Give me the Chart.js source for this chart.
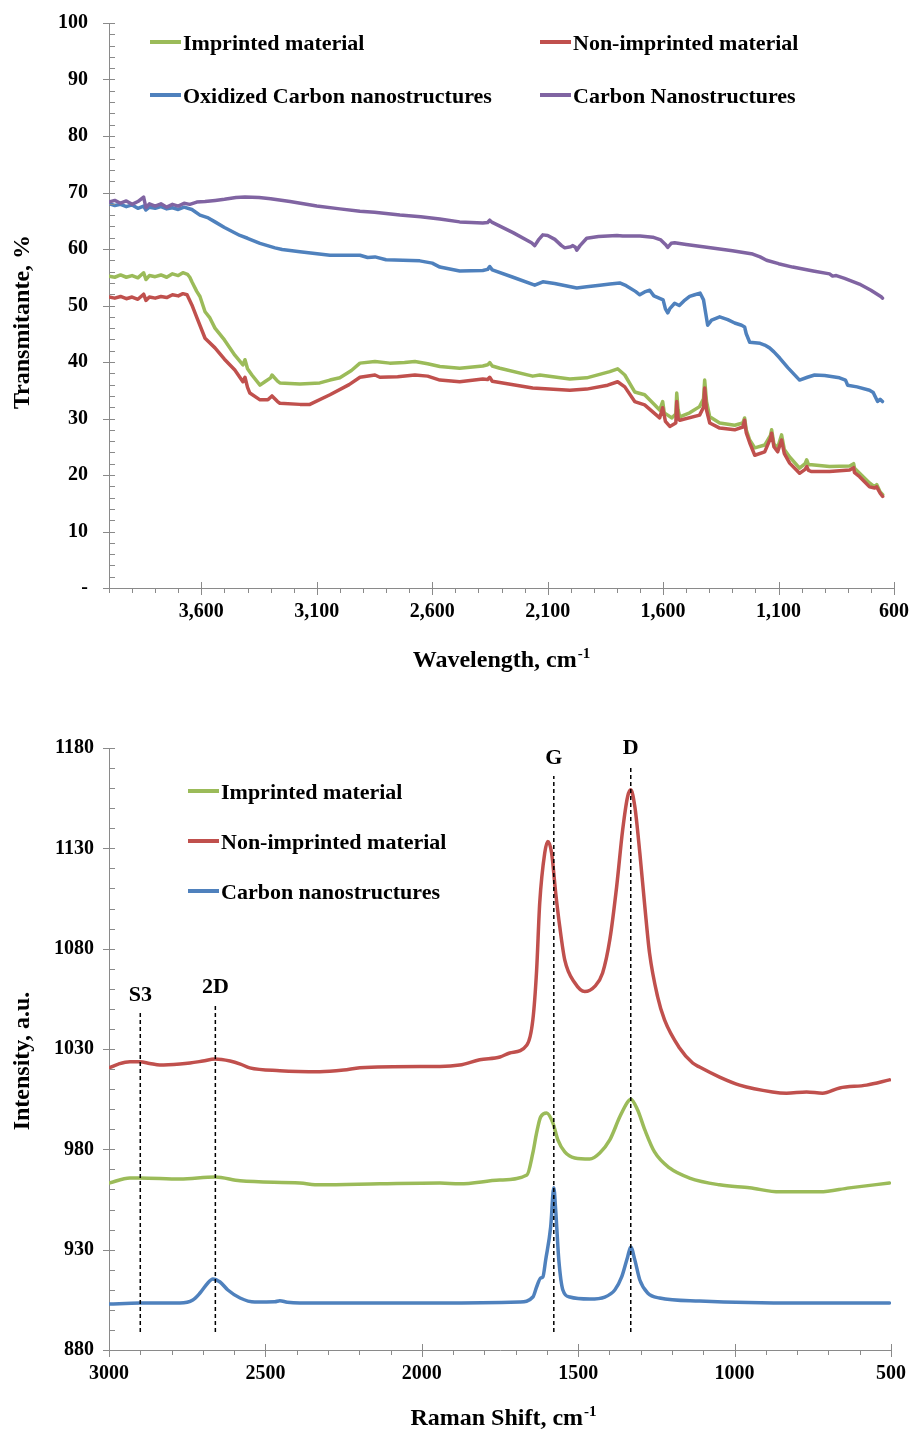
<!DOCTYPE html>
<html>
<head>
<meta charset="utf-8">
<script src="https://cdn.jsdelivr.net/npm/chart.js@4.4.1/dist/chart.umd.min.js"></script>
<style>
  body { margin: 0; background: #fff; overflow: hidden; }
  canvas { position: absolute; left: 0; }
  #ftir { top: 0; }
  #raman { top: 700px; }
</style>
</head>
<body>
<canvas id="ftir" width="912" height="700"></canvas>
<canvas id="raman" width="912" height="730"></canvas>
<script>
// ---- FTIR spectra (wavenumber, transmittance %) ----
const imprintedFtirX = [4000,3975,3950,3925,3900,3875,3850,3840,3825,3800,3775,3750,3725,3700,3680,3660,3650,3641,3620,3606,3584,3563,3541,3500,3455,3420,3411,3400,3381,3346,3325,3300,3294,3270,3260,3173,3087,3043,3000,2950,2913,2848,2784,2720,2675,2620,2567,2481,2381,2360,2351,2340,2307,2165,2134,2004,1931,1831,1797,1766,1723,1680,1636,1615,1602,1595,1580,1563,1545,1541,1535,1528,1485,1442,1425,1420,1412,1398,1355,1290,1255,1247,1240,1225,1203,1160,1135,1130,1120,1104,1087,1075,1052,1009,985,978,970,957,879,792,775,771,749,706,684,675,660,649];
const imprintedFtirY = [55.2,55.0,55.4,55.0,55.3,54.9,55.8,54.6,55.3,55.1,55.4,55.0,55.6,55.3,55.8,55.5,55.0,54.2,52.5,51.6,48.9,47.8,46.0,43.9,41.2,39.5,40.4,38.8,37.7,35.9,36.5,37.2,37.7,36.6,36.3,36.1,36.3,36.8,37.2,38.5,39.8,40.1,39.8,39.9,40.1,39.7,39.2,38.9,39.3,39.5,39.9,39.3,38.9,37.5,37.7,37.0,37.2,38.3,38.8,37.7,34.7,34.2,32.4,31.5,33.0,31.0,30.6,30.1,30.8,34.5,31.5,30.3,31.0,32.1,33.5,36.8,33.0,30.3,29.2,28.8,29.2,30.1,28.0,26.2,24.8,25.3,27.0,28.0,25.5,24.8,27.1,24.5,23.2,21.2,22.0,22.7,21.8,21.8,21.5,21.6,22.0,21.2,20.3,18.6,17.9,18.3,17.0,16.5];

const nonImprintedFtirX = [4000,3975,3950,3925,3900,3875,3850,3840,3825,3800,3775,3750,3725,3700,3680,3662,3641,3619,3584,3541,3500,3455,3420,3411,3400,3390,3346,3312,3294,3270,3260,3173,3130,3043,2960,2913,2848,2827,2750,2675,2620,2567,2481,2381,2360,2351,2340,2165,2004,1931,1840,1797,1766,1723,1680,1615,1602,1590,1571,1545,1541,1535,1528,1442,1425,1420,1412,1398,1355,1290,1255,1247,1240,1225,1203,1160,1135,1130,1120,1104,1087,1075,1052,1009,985,978,970,957,879,792,775,771,749,706,684,675,660,649];
const nonImprintedFtirY = [51.5,51.3,51.6,51.2,51.5,51.1,52.0,50.9,51.5,51.3,51.6,51.4,51.9,51.7,52.1,51.9,50.1,47.8,44.2,42.5,40.5,38.6,36.5,37.3,35.5,34.5,33.3,33.3,34.0,33.0,32.7,32.5,32.5,34.2,36.0,37.3,37.7,37.3,37.4,37.7,37.5,36.8,36.5,37.0,36.9,37.3,36.6,35.4,35.0,35.2,35.9,36.5,35.6,33.0,32.4,30.1,31.9,29.5,28.6,29.2,33.0,30.0,29.7,30.6,32.0,35.4,31.5,29.2,28.3,28.0,28.5,29.7,27.5,25.7,23.5,24.1,26.5,27.4,25.0,24.1,26.2,23.8,22.1,20.3,21.0,21.5,20.8,20.6,20.6,20.9,21.3,20.4,19.7,17.9,17.7,17.9,16.8,16.2];

const oxidizedFtirX = [4000,3975,3950,3925,3900,3875,3850,3840,3825,3800,3775,3750,3725,3700,3675,3641,3606,3570,3541,3500,3433,3400,3346,3281,3250,3173,3043,2913,2880,2848,2800,2654,2600,2567,2481,2381,2360,2351,2340,2250,2156,2121,2070,1974,1931,1874,1830,1788,1760,1720,1701,1680,1658,1640,1600,1590,1580,1570,1550,1530,1510,1485,1463,1440,1425,1415,1407,1390,1355,1320,1290,1260,1247,1240,1225,1180,1160,1139,1120,1095,1060,1009,975,944,900,836,810,801,760,706,690,671,660,650];
const oxidizedFtirY = [68.0,67.7,67.9,67.5,67.8,67.2,67.6,66.9,67.4,67.2,67.5,67.1,67.3,67.0,67.4,67.0,66.0,65.5,64.8,63.8,62.4,61.9,61.0,60.2,59.9,59.5,58.9,58.9,58.5,58.6,58.1,57.9,57.5,56.8,56.1,56.2,56.4,56.9,56.3,55.0,53.6,54.2,53.9,53.1,53.3,53.6,53.8,54.0,53.5,52.5,51.9,52.4,52.7,51.7,51.0,49.4,48.7,49.5,50.4,50.0,50.8,51.6,51.9,52.2,51.0,48.5,46.5,47.4,48.0,47.5,46.9,46.5,46.2,45.0,43.5,43.3,43.0,42.5,41.8,40.7,39.0,36.8,37.3,37.7,37.6,37.2,36.8,35.9,35.6,35.0,34.6,33.0,33.4,33.0];

const carbonFtirX = [4000,3975,3950,3925,3900,3875,3850,3840,3825,3800,3775,3750,3725,3700,3675,3650,3620,3584,3540,3500,3450,3411,3350,3300,3216,3100,3000,2913,2850,2740,2650,2567,2481,2381,2360,2351,2340,2250,2170,2156,2140,2121,2100,2069,2040,2026,2000,1991,1980,1974,1960,1931,1880,1800,1775,1700,1645,1610,1590,1580,1565,1550,1500,1411,1300,1212,1180,1152,1100,1039,950,879,866,850,814,750,700,654,650];
const carbonFtirY = [68.3,68.6,68.1,68.5,67.9,68.4,69.2,67.3,68.0,67.6,68.0,67.4,67.9,67.6,68.1,67.9,68.3,68.4,68.6,68.8,69.1,69.2,69.1,68.9,68.4,67.6,67.1,66.7,66.5,66.0,65.7,65.3,64.8,64.6,64.7,65.1,64.7,62.9,61.1,60.6,61.6,62.5,62.4,61.7,60.6,60.2,60.4,60.6,60.3,59.8,60.6,61.9,62.2,62.4,62.3,62.3,62.1,61.6,60.8,60.3,61.0,61.1,60.8,60.3,59.7,59.1,58.6,58.0,57.4,56.8,56.1,55.6,55.2,55.3,54.8,53.8,52.7,51.5,51.3];

const ftirXTicks = [3600, 3100, 2600, 2100, 1600, 1100, 600];
const ftirYTicks = [0, 10, 20, 30, 40, 50, 60, 70, 80, 90, 100];

// ---- Raman spectra (Raman shift, intensity a.u.) ----
const nonImprintedRamanX = [3000,2970,2933,2901,2870,2837,2773,2741,2700,2661,2613,2580,2550,2454,2326,2250,2198,2006,1942,1879,1815,1750,1719,1664,1645,1633,1623,1607,1597,1585,1572,1559,1543,1511,1479,1447,1422,1399,1377,1358,1342,1332,1319,1303,1287,1272,1246,1224,1176,1134,1112,1048,984,879,834,770,719,664,578,505];
const nonImprintedRamanY = [1020.6,1022.5,1023.7,1023.6,1022.8,1022,1022.5,1023,1024,1025,1024,1022.5,1020.6,1019.2,1018.7,1019.5,1020.6,1021.3,1021.3,1022,1024.6,1026,1028,1032,1044.5,1069,1102.8,1127.7,1133.4,1127.7,1107.8,1091,1074.4,1063,1058.6,1061.2,1067.9,1084.4,1111,1139,1155.8,1159.2,1150.8,1127.7,1101,1077.9,1056,1044.5,1030.5,1023,1021,1016,1012,1008.6,1008,1008.6,1008,1010.6,1012,1014.6];

const imprintedRamanX = [3000,2933,2901,2773,2661,2581,2390,2326,2134,1942,1879,1751,1664,1645,1633,1620,1601,1581,1565,1543,1511,1463,1431,1399,1367,1342,1332,1310,1287,1256,1208,1144,1048,952,856,728,633,505];
const imprintedRamanY = [963.2,965.7,965.7,965.2,966.2,964.3,963.2,962.3,962.8,963.2,962.8,964.7,967.2,978.2,988.2,996.2,998.1,993.2,984.7,978.7,975.7,975.2,978.2,984.7,996.2,1003.6,1005,999.6,989.7,978.7,970.7,965.7,962.3,960.8,958.8,958.8,960.8,963.2];

const carbonRamanX = [3000,2901,2773,2732,2709,2684,2668,2645,2620,2581,2534,2470,2454,2430,2390,1942,1687,1645,1633,1620,1613,1604,1588,1578,1572,1562,1549,1527,1463,1415,1383,1361,1342,1332,1319,1303,1278,1240,1112,792,505];
const carbonRamanY = [902.9,903.4,903.4,904.9,908.4,913.4,915.4,913.9,909.9,905.9,903.9,904.0,904.6,903.8,903.4,903.4,903.9,906.4,911.4,915.9,916.4,924.9,941.3,960.8,949.8,924.9,909.9,906.4,905.4,906.4,909.9,916.4,926.4,931.3,924.9,914.9,908.4,905.9,904.4,903.4,903.4];

const ramanXTicks = [3000, 2500, 2000, 1500, 1000, 500];
const ramanYTicks = [880, 930, 980, 1030, 1080, 1130, 1180];

// band markers
const peakNames = ['S3', '2D', 'G', 'D'];
const peakShifts = [2900, 2660, 1578, 1332];
const peakTops = [1048, 1052, 1166, 1171];
const peakBottom = 889;

const GREEN = '#9BBB59', RED = '#C0504D', BLUE = '#4F81BD', PURPLE = '#8064A2';
const AXIS_GREY = '#8a8a8a';
const SERIF = "'Liberation Serif', 'Times New Roman', serif";
const TICK_FONT = { family: SERIF, size: 20, weight: 'bold' };

function pts(xs, ys) { return xs.map((x, i) => ({ x: x, y: ys[i] })); }
function steps(from, to, step) { const a = []; for (let v = from; v <= to; v += step) a.push(v); return a; }

function spectrum(label, xs, ys, color, order, smooth) {
  const ds = { label: label, data: pts(xs, ys), borderColor: color, backgroundColor: color,
               borderWidth: 3.5, pointRadius: 0, tension: 0, order: order,
               borderJoinStyle: 'round', borderCapStyle: 'round' };
  if (smooth) { ds.cubicInterpolationMode = 'monotone'; }
  return ds;
}

// small tick marks: major ones cross the axis, minor ones are short
const tickMarks = {
  id: 'tickMarks',
  afterDraw(chart, args, o) {
    const ctx = chart.ctx, a = chart.chartArea, xs = chart.scales.x, ys = chart.scales.y;
    ctx.save();
    ctx.strokeStyle = AXIS_GREY;
    ctx.lineWidth = 1;
    ctx.beginPath();
    o.xMinor.forEach(v => { const p = Math.round(xs.getPixelForValue(v)) + 0.5; ctx.moveTo(p, a.bottom); ctx.lineTo(p, a.bottom + 5); });
    o.xMajor.forEach(v => { const p = Math.round(xs.getPixelForValue(v)) + 0.5; ctx.moveTo(p, a.bottom - 6); ctx.lineTo(p, a.bottom + 7); });
    o.yMinor.forEach(v => { const p = Math.round(ys.getPixelForValue(v)) + 0.5; ctx.moveTo(a.left, p); ctx.lineTo(a.left + 6, p); });
    o.yMajor.forEach(v => { const p = Math.round(ys.getPixelForValue(v)) + 0.5; ctx.moveTo(a.left - 6, p); ctx.lineTo(a.left + 6, p); });
    ctx.stroke();
    ctx.restore();
  }
};

// axis titles (with superscript) and the in-plot legend
const decorations = {
  id: 'decorations',
  afterDraw(chart, args, o) {
    const ctx = chart.ctx;
    ctx.save();
    ctx.fillStyle = '#000';
    // x title
    const big = 'bold 24px ' + SERIF, small = 'bold 15px ' + SERIF;
    ctx.font = big;
    const w1 = ctx.measureText(o.xTitle).width;
    ctx.font = small;
    const w2 = ctx.measureText(o.xSup).width;
    let x0 = o.xTitleX - (w1 + w2) / 2;
    ctx.textAlign = 'left';
    ctx.textBaseline = 'alphabetic';
    ctx.font = big;
    ctx.fillText(o.xTitle, x0, o.xTitleY);
    ctx.font = small;
    ctx.fillText(o.xSup, x0 + w1 + 1, o.xTitleY - 9);
    // y title
    ctx.save();
    ctx.translate(o.yTitleX, o.yTitleY);
    ctx.rotate(-Math.PI / 2);
    ctx.font = big;
    ctx.textAlign = 'center';
    ctx.fillText(o.yTitle, 0, 0);
    ctx.restore();
    // legend
    ctx.font = 'bold 22px ' + SERIF;
    ctx.textAlign = 'left';
    o.legend.forEach(it => {
      const ds = chart.data.datasets[it.index];
      ctx.strokeStyle = ds.borderColor;
      ctx.lineWidth = 4;
      ctx.beginPath();
      ctx.moveTo(it.x, it.y);
      ctx.lineTo(it.x + 31, it.y);
      ctx.stroke();
      ctx.fillText(ds.label, it.x + 33, it.y + 8);
    });
    ctx.restore();
  }
};

// band names above the dashed marker lines
const peakLabels = {
  id: 'peakLabels',
  afterDraw(chart) {
    const ctx = chart.ctx, xs = chart.scales.x, ys = chart.scales.y;
    ctx.save();
    ctx.fillStyle = '#000';
    ctx.font = 'bold 22px ' + SERIF;
    ctx.textAlign = 'center';
    ctx.textBaseline = 'alphabetic';
    peakNames.forEach((n, i) => {
      ctx.fillText(n, xs.getPixelForValue(peakShifts[i]), ys.getPixelForValue(peakTops[i]) - 12);
    });
    ctx.restore();
  }
};

function noLabelPadding(s) {
  s.paddingLeft = 0; s.paddingRight = 0; s.paddingTop = 0; s.paddingBottom = 0;
}

function axes(xMin, xMax, xTicks, yMin, yMax, yTicks, xFmt, yFmt, xHeight, yPad) {
  return {
    x: {
      type: 'linear', reverse: true, min: xMin, max: xMax,
      afterBuildTicks: s => { s.ticks = xTicks.map(v => ({ value: v })); },
      afterFit: s => { s.height = xHeight; noLabelPadding(s); },
      ticks: { font: TICK_FONT, color: '#000', padding: 12, maxRotation: 0, autoSkip: false, callback: xFmt },
      grid: { display: false, drawTicks: false },
      border: { color: AXIS_GREY, width: 1 }
    },
    y: {
      min: yMin, max: yMax,
      afterBuildTicks: s => { s.ticks = yTicks.map(v => ({ value: v })); },
      afterFit: s => { s.width = 109; noLabelPadding(s); },
      ticks: { font: TICK_FONT, color: '#000', padding: yPad, autoSkip: false, callback: yFmt },
      grid: { display: false, drawTicks: false },
      border: { color: AXIS_GREY, width: 1 }
    }
  };
}

new Chart(document.getElementById('ftir'), {
  type: 'line',
  data: {
    datasets: [
      spectrum('Imprinted material', imprintedFtirX, imprintedFtirY, GREEN, 3),
      spectrum('Non-imprinted material', nonImprintedFtirX, nonImprintedFtirY, RED, 2),
      spectrum('Oxidized Carbon nanostructures', oxidizedFtirX, oxidizedFtirY, BLUE, 1),
      spectrum('Carbon Nanostructures', carbonFtirX, carbonFtirY, PURPLE, 0)
    ]
  },
  options: {
    responsive: false,
    animation: false,
    layout: { padding: { left: 0, top: 23, right: 18, bottom: 0 } },
    scales: axes(600, 4000, ftirXTicks, 0, 100, ftirYTicks,
                 v => v.toLocaleString('en-US'), v => (v === 0 ? '-' : v), 112, 21),
    plugins: {
      legend: { display: false },
      tooltip: { enabled: false },
      tickMarks: { xMajor: ftirXTicks, xMinor: steps(600, 4000, 100), yMajor: ftirYTicks, yMinor: steps(0, 100, 2) },
      decorations: {
        xTitle: 'Wavelength, cm', xSup: '-1', xTitleX: 501, xTitleY: 667,
        yTitle: 'Transmitante, %', yTitleX: 29, yTitleY: 322,
        legend: [ { index: 0, x: 150, y: 42 }, { index: 1, x: 540, y: 42 },
                  { index: 2, x: 150, y: 95 }, { index: 3, x: 540, y: 95 } ]
      }
    }
  },
  plugins: [tickMarks, decorations]
});

const markerSets = peakShifts.map((s, i) => ({
  label: peakNames[i],
  data: [{ x: s, y: peakBottom }, { x: s, y: peakTops[i] }],
  borderColor: '#000', borderWidth: 1.5, borderDash: [4, 3],
  pointRadius: 0, order: 0
}));

new Chart(document.getElementById('raman'), {
  type: 'line',
  data: {
    datasets: [
      spectrum('Imprinted material', imprintedRamanX, imprintedRamanY, GREEN, 1, true),
      spectrum('Non-imprinted material', nonImprintedRamanX, nonImprintedRamanY, RED, 1, true),
      spectrum('Carbon nanostructures', carbonRamanX, carbonRamanY, BLUE, 1, true)
    ].concat(markerSets)
  },
  options: {
    responsive: false,
    animation: false,
    layout: { padding: { left: 0, top: 48, right: 21, bottom: 0 } },
    scales: axes(500, 3000, ramanXTicks, 880, 1180, ramanYTicks,
                 v => String(v), v => String(v), 80, 15),
    plugins: {
      legend: { display: false },
      tooltip: { enabled: false },
      tickMarks: { xMajor: ramanXTicks, xMinor: steps(500, 3000, 100), yMajor: ramanYTicks, yMinor: steps(880, 1180, 10) },
      decorations: {
        xTitle: 'Raman Shift, cm', xSup: '-1', xTitleX: 503, xTitleY: 725,
        yTitle: 'Intensity, a.u.', yTitleX: 29, yTitleY: 361,
        legend: [ { index: 0, x: 188, y: 91 }, { index: 1, x: 188, y: 141 }, { index: 2, x: 188, y: 191 } ]
      }
    }
  },
  plugins: [tickMarks, decorations, peakLabels]
});
</script>
</body>
</html>
